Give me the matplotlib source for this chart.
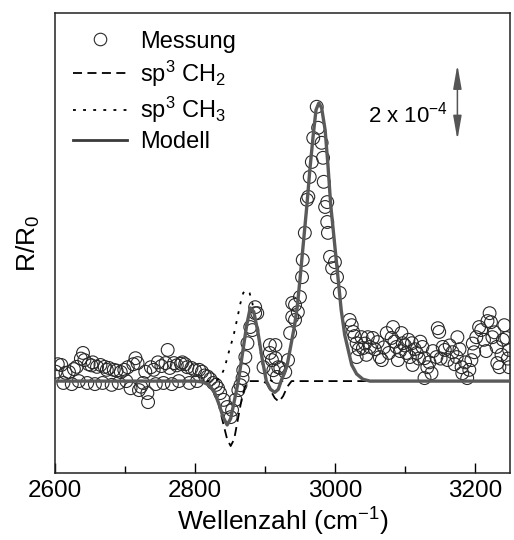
import matplotlib
matplotlib.use("Agg")
import matplotlib.pyplot as plt
from matplotlib.lines import Line2D

plt.rcParams['font.family'] = ['Liberation Sans', 'DejaVu Sans']
plt.rcParams['mathtext.default'] = 'regular'

# ---------------- data (values in units of 1e-4) ----------------
mess_x = [2601, 2604, 2609, 2612, 2615, 2620, 2624, 2627, 2631, 2634, 2637, 2640, 2642, 2646, 2648,
          2652, 2654, 2657, 2660, 2665, 2668, 2671, 2674, 2677, 2681, 2684, 2688, 2691, 2694, 2699,
          2702, 2704, 2708, 2712, 2715, 2718, 2720, 2723, 2726, 2729, 2732, 2733, 2737, 2741, 2744,
          2747, 2752, 2755, 2758, 2761, 2764, 2767, 2770, 2774, 2777, 2780, 2782, 2786, 2789, 2792,
          2795, 2800, 2803, 2806, 2810, 2814, 2818, 2822, 2826, 2830,
          2833, 2836, 2841, 2846, 2851, 2853, 2858, 2862, 2865, 2868, 2869, 2872, 2875, 2879, 2882,
          2886, 2886, 2889, 2898, 2907, 2907, 2910, 2915, 2915, 2912, 2917, 2919, 2922, 2929, 2933,
          2936, 2939, 2939, 2943, 2943, 2947, 2950,
          2953, 2954, 2957, 2960, 2962, 2964, 2967, 2969, 2974, 2976, 2981, 2983, 2984, 2986, 2989,
          2989, 2990, 2993, 2996, 3000, 3003, 3007, 3021,
          3024, 3026, 3031, 3031, 3038, 3040, 3047, 3050, 3054, 3061, 3064, 3067, 3074, 3083, 3081,
          3088, 3090, 3095, 3097, 3102, 3107, 3110, 3111, 3117, 3125, 3128, 3132, 3128, 3138, 3145,
          3147, 3149, 3154, 3157, 3161, 3168, 3174, 3175, 3181, 3182, 3189, 3195, 3199, 3202, 3206,
          3209, 3221, 3223, 3225, 3231, 3232, 3235, 3242, 3245, 3249, 3249,
          3028, 3034, 3043, 3045, 3057, 3070, 3077, 3085, 3093, 3100, 3105, 3114, 3120, 3122, 3135,
          3140, 3151, 3164, 3171, 3178, 3186, 3192, 3197, 3213, 3216, 3218, 3228, 3238, 3240, 3247]
mess_y = [0.25, 0.45, 0.43, -0.05, 0.22, 0.24, -0.08, 0.32, 0.38, 0.0, 0.6, 0.75, 0.56, -0.05, 0.45,
          0.42, 0.5, -0.08, 0.38, 0.43, -0.05, 0.38, 0.3, 0.35, -0.1, 0.3, 0.28, -0.05, 0.24, 0.3,
          0.0, 0.37, -0.19, 0.45, 0.61, 0.48, -0.24, -0.15, -0.05, 0.25, -0.32, -0.56, 0.37, 0.3, -0.08,
          0.5, 0.4, -0.05, 0.48, 0.83, 0.35, -0.08, 0.48, 0.42, 0.0, 0.46, 0.5, 0.45, 0.37, -0.05,
          0.35, 0.29, 0.0, 0.3, 0.25, 0.15, 0.12, 0.05, -0.05, -0.1,
          -0.19, -0.32, -0.5, -0.69, -0.96, -0.77, -0.5, -0.24, -0.11, 0.08, 0.29, 0.64, 1.01, 1.44, 1.36,
          1.81, 1.97, 1.81, 0.37, 0.96, 0.75, 0.56, 0.96, 0.61, 0.29, 0.11, 0.37, 0.35, 0.24, 0.56,
          1.28, 1.71, 2.08, 2.03, 1.63, 1.84, 2.24,
          2.77, 3.23, 3.95, 4.83, 4.91, 5.44, 5.84, 6.48, 7.31, 6.75, 6.35, 5.95, 5.31, 4.64, 4.77,
          4.24, 3.95, 3.31, 3.01, 3.17, 2.77, 2.35, 1.63,
          1.49, 1.31, 1.01, 0.64, 1.17, 0.88, 1.17, 0.91, 1.15, 1.04, 0.64, 0.56, 1.28, 1.44, 1.15,
          0.91, 0.56, 1.28, 1.01, 0.75, 0.64, 1.01, 0.43, 0.75, 0.91, 0.61, 0.37, 0.08, 0.21, 0.64,
          1.41, 1.31, 0.91, 0.83, 0.56, 0.77, 0.64, 1.17, 0.37, 0.21, 0.08, 0.56, 0.77, 1.17, 1.44,
          1.36, 1.81, 1.57, 1.17, 0.91, 0.48, 0.37, 1.49, 1.15, 0.83, 0.37,
          1.2, 0.85, 1.0, 0.7, 0.85, 0.9, 0.75, 1.05, 0.8, 0.95, 1.1, 0.85, 0.6, 1.05, 0.5,
          0.8, 0.6, 0.95, 0.45, 0.85, 0.5, 0.3, 1.0, 1.1, 0.8, 1.6, 1.3, 0.7, 1.1, 0.6]

ch2_x = [2600, 2700, 2800, 2815, 2825, 2833, 2840, 2846, 2851, 2856, 2862, 2867, 2872, 2878,
         2885, 2895, 2902, 2908, 2914, 2920, 2926, 2932, 2938, 3050, 3250]
ch2_y = [0, 0, 0, -0.05, -0.2, -0.55, -1.1, -1.55, -1.73, -1.55, -0.95, -0.45, -0.12, 0.0,
         0.0, 0.0, -0.05, -0.25, -0.45, -0.55, -0.4, -0.15, 0.0, 0.0, 0.0]

ch3_x = [2600, 2700, 2820, 2830, 2836, 2842, 2848, 2855, 2860, 2865, 2869, 2873, 2878, 2882,
         2887, 2892, 2897, 2902, 2910, 2925, 2932, 2937, 2942, 2946, 2950, 2954, 2960, 2964,
         2969, 2973, 2977, 2981, 2986, 2990, 2994, 2999, 3004, 3009, 3014, 3019, 3024, 3031,
         3040, 3050, 3250]
ch3_y = [0, 0, 0, 0.0, 0.1, 0.33, 0.75, 1.2, 1.63, 2.08, 2.35, 2.43, 2.35, 2.08,
         1.6, 0.95, 0.4, 0.1, 0.0, 0.0, 0.45, 0.95, 1.45, 1.95, 2.7, 3.5, 4.7, 5.6,
         6.56, 7.23, 7.41, 7.28, 6.69, 5.76, 4.69, 3.76, 2.83, 1.89, 1.23, 0.83, 0.43, 0.19,
         0.05, 0.0, 0.0]

model_x = [2600, 2700, 2800, 2810, 2820, 2828, 2835, 2840, 2846, 2851, 2856, 2862, 2868, 2874,
           2879, 2884, 2890, 2896, 2902, 2908, 2914, 2919, 2924, 2928, 2932, 2937, 2942, 2946,
           2950, 2954, 2960, 2964, 2969, 2973, 2977, 2981, 2986, 2990, 2994, 2999, 3004, 3009,
           3014, 3019, 3024, 3031, 3040, 3050, 3150, 3250]
model_y = [0, 0, 0, -0.02, -0.1, -0.3, -0.65, -0.95, -1.17, -1.0, -0.55, 0.0, 0.75, 1.5,
           1.95, 1.85, 1.3, 0.6, 0.0, -0.22, -0.3, -0.22, 0.05, 0.22, 0.45, 0.95, 1.45, 1.95,
           2.7, 3.5, 4.7, 5.6, 6.56, 7.23, 7.41, 7.28, 6.69, 5.76, 4.69, 3.76, 2.83, 1.89,
           1.23, 0.83, 0.43, 0.19, 0.05, 0.0, 0.0, 0.0]

x_ticks = [2600, 2800, 3000, 3200]
scale_bar = [6.43, 8.43]   # 2 x 10^-4
labels = ['Messung', 'sp$^3$ CH$_2$', 'sp$^3$ CH$_3$', 'Modell']

# ---------------- figure ----------------
fig = plt.figure(figsize=(5.14, 5.40), dpi=100)
ax = fig.add_axes([0.107, 0.124, 0.885, 0.852])

ax.scatter(mess_x, mess_y, s=85, facecolors='none', edgecolors='#2a2a2a', linewidths=0.8, zorder=2)
ax.plot(ch2_x, ch2_y, color='black', lw=1.3, dashes=(5, 3), zorder=3)
ax.plot(ch3_x, ch3_y, color='black', lw=1.3, dashes=(1.6, 4), zorder=3)
ax.plot(model_x, model_y, color='#5a5a5a', lw=2.4, zorder=4)

ax.set_xlim(2600, 3250)
ax.set_ylim(-2.45, 9.81)
ax.set_xticks(x_ticks)
ax.set_xticks([2700, 2900, 3100], minor=True)
ax.tick_params(axis='x', which='major', direction='in', length=7, width=1, labelsize=17.5, pad=5)
ax.tick_params(axis='x', which='minor', direction='in', length=5, width=1)
ax.set_yticks([])
for s in ax.spines.values():
    s.set_linewidth(1.1)
    s.set_color('#222222')

ax.set_xlabel('Wellenzahl (cm$^{-1}$)', fontsize=19, labelpad=3)
ax.set_ylabel('R/R$_0$', fontsize=19, labelpad=9)

# scale bar
ax.annotate('', xy=(3175, scale_bar[0]), xytext=(3175, scale_bar[1]),
            arrowprops=dict(arrowstyle='<|-|>,head_length=0.8,head_width=0.14',
                            color='#555555', lw=1.1, mutation_scale=18, shrinkA=0, shrinkB=0))
ax.text(3047, 7.09, '2 x 10$^{-4}$', fontsize=16, va='center', ha='left')

handles = [
    Line2D([], [], ls='none', marker='o', markerfacecolor='none', markeredgecolor='#2a2a2a',
           markersize=9, markeredgewidth=0.8),
    Line2D([], [], color='black', lw=1.3, dashes=(5, 3)),
    Line2D([], [], color='black', lw=1.3, dashes=(1.6, 4)),
    Line2D([], [], color='#3a3a3a', lw=2.0),
]
ax.legend(handles, labels, loc='upper left', frameon=False, fontsize=17,
          handlelength=2.3, handletextpad=0.55, labelspacing=0.25,
          borderaxespad=0.35, borderpad=0.4)

fig.savefig('out.png', dpi=100)
